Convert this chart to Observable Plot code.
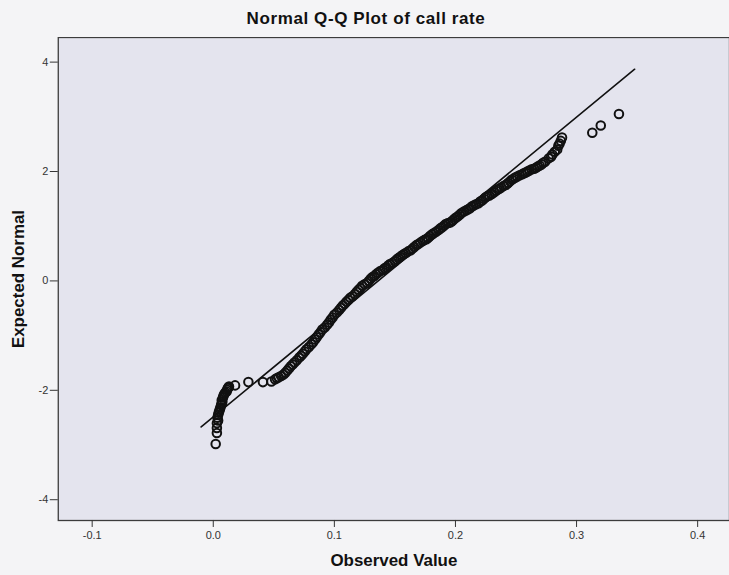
<!DOCTYPE html>
<html>
<head>
<meta charset="utf-8">
<script src="https://cdn.jsdelivr.net/npm/d3@7"></script>
<script src="https://cdn.jsdelivr.net/npm/@observablehq/plot@0.6"></script>
<style>
  html, body { margin: 0; padding: 0; background: #f4f4f6; overflow: hidden; }
  body { width: 729px; height: 575px; position: relative; font-family: "Liberation Sans", Arial, sans-serif; }
  #title { position: absolute; top: 0; left: 0; width: 732px; height: 37px; }
  #title span { position: absolute; left: 366px; top: 10px; transform: translateX(-50%); white-space: nowrap;
    font-size: 17px; font-weight: bold; color: #111; letter-spacing: 0.6px; line-height: 17px; }
  #chart { position: absolute; top: 37px; left: 0; }
  #chart svg [aria-label="x-axis label"] text, #chart svg [aria-label="y-axis label"] text { font-weight: bold; font-size: 17px; fill: #111; }
</style>
</head>
<body>
<div id="title"><span>Normal Q-Q Plot of call rate</span></div>
<div id="chart"></div>
<script>
const observed = [
  0.002, 0.003, 0.003, 0.003, 0.0035, 0.004, 0.004, 0.0045, 0.005, 0.0055, 0.006, 0.0065, 0.007, 0.007, 0.0075,
  0.008, 0.0085, 0.009, 0.010, 0.011, 0.0115, 0.012, 0.0125, 0.013,
  0.018, 0.029, 0.041, 0.048,
  0.051, 0.0525, 0.054, 0.056, 0.058, 0.0595, 0.061, 0.0625, 0.064, 0.0655, 0.067, 0.069, 0.071, 0.0725,
  0.074, 0.0755, 0.077, 0.079, 0.081, 0.0825, 0.084, 0.0855, 0.087, 0.0885, 0.090, 0.092, 0.094, 0.0955,
  0.097, 0.0985, 0.100, 0.102, 0.104, 0.1055, 0.107, 0.1085, 0.110, 0.1115, 0.113, 0.115, 0.117, 0.1185,
  0.120, 0.1215, 0.123, 0.125, 0.127, 0.1285, 0.130, 0.1315, 0.133, 0.1345, 0.136, 0.138, 0.140, 0.1415,
  0.143, 0.1445, 0.146, 0.148, 0.150, 0.1515, 0.153, 0.1545, 0.156, 0.1575, 0.159, 0.161, 0.163, 0.1645,
  0.166, 0.1675, 0.169, 0.171, 0.173, 0.1745, 0.176, 0.1775, 0.179, 0.1805, 0.182, 0.184, 0.186, 0.1875,
  0.189, 0.1905, 0.192, 0.194, 0.196, 0.1975, 0.199, 0.2005, 0.202, 0.2035, 0.205, 0.207, 0.209, 0.2105,
  0.212, 0.2135, 0.215, 0.217, 0.219, 0.2205, 0.222, 0.2235, 0.225, 0.2265, 0.228, 0.230, 0.232, 0.2335,
  0.235, 0.2365, 0.238, 0.240, 0.242, 0.2435, 0.245, 0.2465, 0.248, 0.2495, 0.251, 0.253, 0.255, 0.2565,
  0.258, 0.2595, 0.261, 0.263, 0.265, 0.2665, 0.268, 0.2695, 0.271, 0.2725,
  0.274, 0.277, 0.279, 0.280, 0.282, 0.284, 0.285, 0.286, 0.287, 0.288,
  0.313, 0.320, 0.335
];
const expected = [
  -2.98, -2.78, -2.69, -2.60, -2.50, -2.55, -2.45, -2.41, -2.38, -2.34, -2.31, -2.27, -2.24, -2.18, -2.21,
  -2.13, -2.10, -2.07, -2.04, -2.02, -1.99, -1.96, -1.95, -1.93,
  -1.91, -1.85, -1.85, -1.84,
  -1.80, -1.78, -1.76, -1.74, -1.71, -1.68, -1.64, -1.60, -1.56, -1.53, -1.49, -1.45, -1.40, -1.37,
  -1.33, -1.29, -1.25, -1.21, -1.16, -1.12, -1.07, -1.03, -0.98, -0.94, -0.89, -0.85, -0.80, -0.76,
  -0.71, -0.67, -0.62, -0.58, -0.53, -0.49, -0.45, -0.42, -0.38, -0.35, -0.31, -0.28, -0.24, -0.20,
  -0.16, -0.13, -0.09, -0.06, -0.04, 0.00, 0.04, 0.07, 0.09, 0.12, 0.15, 0.18, 0.20, 0.23,
  0.25, 0.28, 0.31, 0.33, 0.36, 0.39, 0.42, 0.44, 0.47, 0.49, 0.51, 0.54, 0.56, 0.59,
  0.62, 0.65, 0.67, 0.70, 0.73, 0.75, 0.76, 0.79, 0.82, 0.85, 0.87, 0.90, 0.93, 0.96,
  0.98, 1.01, 1.04, 1.06, 1.07, 1.10, 1.13, 1.16, 1.18, 1.21, 1.24, 1.27, 1.29, 1.31,
  1.33, 1.36, 1.38, 1.40, 1.42, 1.45, 1.47, 1.50, 1.53, 1.55, 1.56, 1.59, 1.62, 1.65,
  1.67, 1.69, 1.71, 1.74, 1.76, 1.79, 1.82, 1.85, 1.87, 1.89, 1.91, 1.93, 1.95, 1.97,
  1.98, 2.00, 2.02, 2.04, 2.05, 2.07, 2.09, 2.11, 2.13, 2.16,
  2.18, 2.24, 2.27, 2.31, 2.36, 2.40, 2.47, 2.51, 2.56, 2.62,
  2.71, 2.84, 3.05
];
// Reference (normal) line end points
const refObserved = [-0.010, 0.348];
const refExpected = [-2.67, 3.87];

const xTicks = [-0.1, 0.0, 0.1, 0.2, 0.3, 0.4];
const xTickLabels = ["-0.1", "0.0", "0.1", "0.2", "0.3", "0.4"];
const yTicks = [-4, -2, 0, 2, 4];
const yTickLabels = ["-4", "-2", "0", "2", "4"];

const points = observed.map((o, i) => ({observed: o, expected: expected[i]}));
const refLine = refObserved.map((o, i) => ({observed: o, expected: refExpected[i]}));

const chart = Plot.plot({
  width: 732,
  height: 538,
  marginTop: 0,
  marginLeft: 58,
  marginRight: 0,
  marginBottom: 53,
  x: {domain: [-0.128, 0.4263]},
  y: {domain: [-4.38, 4.45]},
  style: {background: "transparent", fontFamily: "'Liberation Sans', Arial, sans-serif", fontSize: "11px", color: "#333"},
  marks: [
    Plot.frame({fill: "#e4e4ee", stroke: "#3c3c3c", strokeWidth: 1.3}),
    Plot.axisX(xTicks, {tickSize: 7, tickPadding: 4, tickFormat: (d, i) => xTickLabels[i], fontSize: 11,
      label: "Observed Value", labelAnchor: "center", labelOffset: 46, labelArrow: "none"}),
    Plot.axisY(yTicks, {tickSize: 8, tickPadding: 2, tickFormat: (d, i) => yTickLabels[i], fontSize: 11,
      label: "Expected Normal", labelAnchor: "center", labelOffset: 46, labelArrow: "none"}),
    Plot.line(refLine, {x: "observed", y: "expected", stroke: "#111", strokeWidth: 1.6}),
    Plot.dot(points, {x: "observed", y: "expected", r: 4.3, stroke: "#111", strokeWidth: 2, fill: "none"})
  ]
});
document.getElementById("chart").appendChild(chart);
</script>
</body>
</html>
